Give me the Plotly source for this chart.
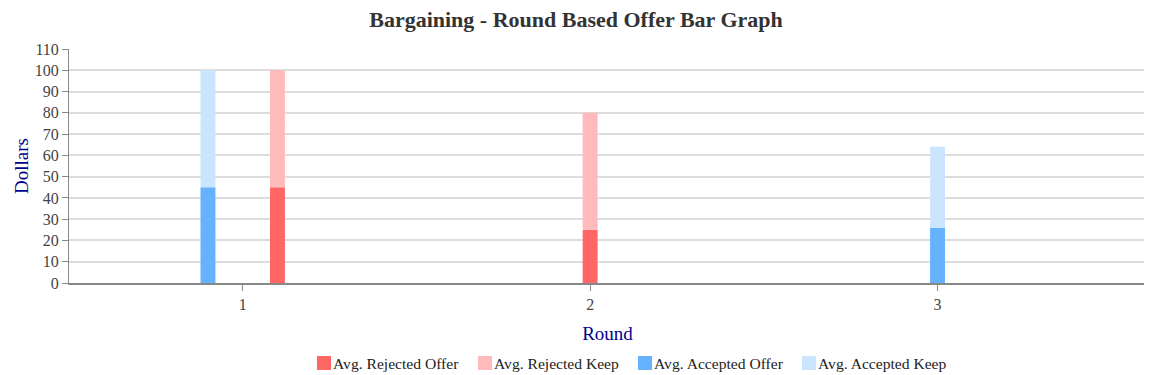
import plotly.graph_objects as go

rounds = [1, 2, 3]
rejected_offer = [45, 25, 0]
rejected_keep = [55, 55, 0]
accepted_offer = [45, 0, 26]
accepted_keep = [55, 0, 38]

series_names = ["Avg. Rejected Offer", "Avg. Rejected Keep",
                "Avg. Accepted Offer", "Avg. Accepted Keep"]
series_colors = ["#FF6666", "#FFBBBB", "#66B2FF", "#CCE5FF"]

BW = 0.043
SLOT = 0.1

rej_tot = [a + b for a, b in zip(rejected_offer, rejected_keep)]
acc_tot = [a + b for a, b in zip(accepted_offer, accepted_keep)]
rej_center = [SLOT if acc_tot[i] > 0 else 0 for i in range(len(rounds))]
acc_center = [-SLOT if rej_tot[i] > 0 else 0 for i in range(len(rounds))]
rej_off = [c - BW / 2 for c in rej_center]
acc_off = [c - BW / 2 for c in acc_center]

fig = go.Figure()
specs = [
    (rejected_offer, None, rej_off),
    (rejected_keep, rejected_offer, rej_off),
    (accepted_offer, None, acc_off),
    (accepted_keep, accepted_offer, acc_off),
]
for name, color, (vals, base, off) in zip(series_names, series_colors, specs):
    fig.add_trace(go.Bar(name=name, x=rounds, y=vals, base=base, offset=off, width=BW,
                         marker_color=color, marker_line_width=0, showlegend=False))

serif = "Liberation Serif, Times New Roman, serif"

# page body has an 8px default margin, so the figure is placed at (8, 8)
PAGE = 8
W, H = 1152 - PAGE, 375 - PAGE
L, R, T, B = 69 - PAGE, 6, 49 - PAGE, 92
pw, ph = W - L - R, H - T - B

# custom legend (square swatch immediately followed by its label), reference pixel coords
legend_left_px = [317, 478, 638, 802]
legend_cy_px = 363
sw = 14


def px_to_paper_x(px):
    return (px - PAGE - L) / pw


def px_to_paper_y(py):
    return (T + ph - (py - PAGE)) / ph


shapes = []
annotations = []
for name, color, lx in zip(series_names, series_colors, legend_left_px):
    shapes.append(dict(type="rect", xref="paper", yref="paper",
                       x0=px_to_paper_x(lx), x1=px_to_paper_x(lx + sw),
                       y0=px_to_paper_y(legend_cy_px + sw / 2),
                       y1=px_to_paper_y(legend_cy_px - sw / 2),
                       fillcolor=color, line=dict(width=0)))
    annotations.append(dict(text=name, xref="paper", yref="paper",
                            x=px_to_paper_x(lx + sw), y=px_to_paper_y(legend_cy_px),
                            xanchor="left", yanchor="middle", showarrow=False,
                            font=dict(family=serif, size=15.6, color="#222")))

# y-axis title as rotated annotation
annotations.append(dict(text="Dollars", xref="paper", yref="paper",
                        x=px_to_paper_x(21), y=px_to_paper_y(166), textangle=-90,
                        xanchor="center", yanchor="middle", showarrow=False,
                        font=dict(family=serif, size=19, color="#00008B")))

fig.update_layout(
    width=W, height=H,
    barmode="overlay",
    paper_bgcolor="white", plot_bgcolor="white",
    margin=dict(l=L, r=R, t=T, b=B),
    font=dict(family=serif, color="#444", size=16),
    title=dict(text="<b>Bargaining - Round Based Offer Bar Graph</b>",
               x=(576 - PAGE) / W, xanchor="center", y=1 - 4 / H, yanchor="top",
               pad=dict(t=0),
               font=dict(family=serif, size=22, color="#333")),
    xaxis=dict(range=[0.5, 3.6], tickmode="array", tickvals=rounds,
               ticktext=[str(r) for r in rounds], automargin=False,
               showgrid=False, zeroline=False, showline=True, linecolor="#888", linewidth=2,
               ticks="outside", ticklen=6, tickcolor="#888",
               tickfont=dict(family=serif, size=16, color="#444"),
               title=dict(text="Round", font=dict(family=serif, size=19, color="#00008B"),
                          standoff=14)),
    yaxis=dict(range=[0, 110], tickmode="linear", tick0=0, dtick=10, automargin=False,
               showgrid=True, gridcolor="#DDDDDD", gridwidth=2, zeroline=False,
               showline=True, linecolor="#888", linewidth=1,
               ticks="outside", ticklen=6, tickcolor="#888",
               tickfont=dict(family=serif, size=16, color="#444")),
    shapes=shapes,
    annotations=annotations,
    showlegend=False,
)

fig.write_html("out.html")
